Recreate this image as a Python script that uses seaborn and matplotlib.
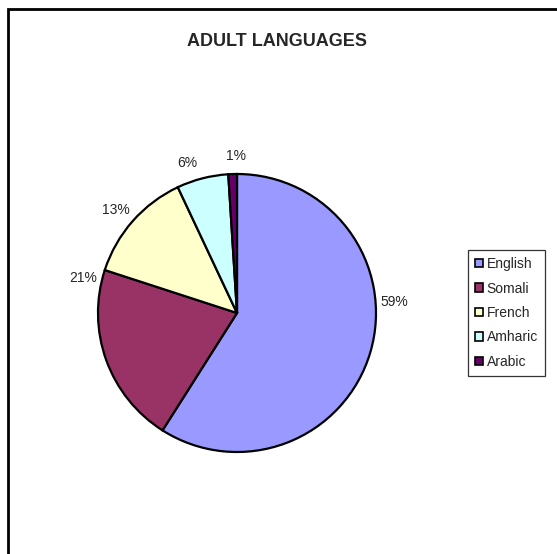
import matplotlib.pyplot as plt
import seaborn as sns
from matplotlib.patches import Rectangle

# data
languages = ["English", "Somali", "French", "Amharic", "Arabic"]
shares = [59, 21, 13, 6, 1]
colors = ["#9999FF", "#993366", "#FFFFCC", "#CCFFFF", "#660066"]

# where Excel put the percentage labels (pie radius units)
label_xy = [(1.13, 0.08), (-1.11, 0.25), (-0.87, 0.74), (-0.36, 1.08), (-0.01, 1.13)]

sns.set_style("white")
plt.rcParams["font.family"] = ["Liberation Sans", "DejaVu Sans"]

W, H = 557, 554
fig = plt.figure(figsize=(W / 100, H / 100), dpi=100)

# outer frame (open to the right and bottom like the original crop)
fig.patches.append(
    Rectangle((8 / W, -0.1), 1.2, 1 - 9 / H + 0.1, transform=fig.transFigure,
              fill=False, edgecolor="black", linewidth=2)
)

# pie axes: centre ~(237, 313) px, radius ~139 px
r = 139
lim = 1.3
side = 2 * r * lim
cx, cy = 237, H - 313
ax = fig.add_axes([(cx - side / 2) / W, (cy - side / 2) / H, side / W, side / H])

wedges, texts, autotexts = ax.pie(
    shares,
    colors=colors,
    startangle=90,
    counterclock=False,
    autopct=lambda p: f"{round(p)}%",
    pctdistance=1.14,
    wedgeprops=dict(edgecolor="black", linewidth=1.6),
    textprops=dict(fontsize=10),
)
for t, (x, y) in zip(autotexts, label_xy):
    t.set_position((x, y))
ax.set_xlim(-lim, lim)
ax.set_ylim(-lim, lim)
ax.axis("off")

fig.text(277 / W, 1 - 42 / H, "ADULT LANGUAGES", ha="center", va="center",
         fontsize=13, fontweight="bold")

leg = fig.legend(
    wedges, languages,
    loc="center left",
    bbox_to_anchor=(468 / W, 1 - 313 / H),
    fontsize=10,
    frameon=True,
    fancybox=False,
    handlelength=0.55,
    handleheight=0.55,
    handletextpad=0.3,
    labelspacing=0.75,
    borderpad=0.5,
    borderaxespad=0,
)
leg.get_frame().set_edgecolor("black")
leg.get_frame().set_linewidth(0.9)
for h in leg.legend_handles:
    h.set_linewidth(1.2)

fig.savefig("out.png", dpi=100)
